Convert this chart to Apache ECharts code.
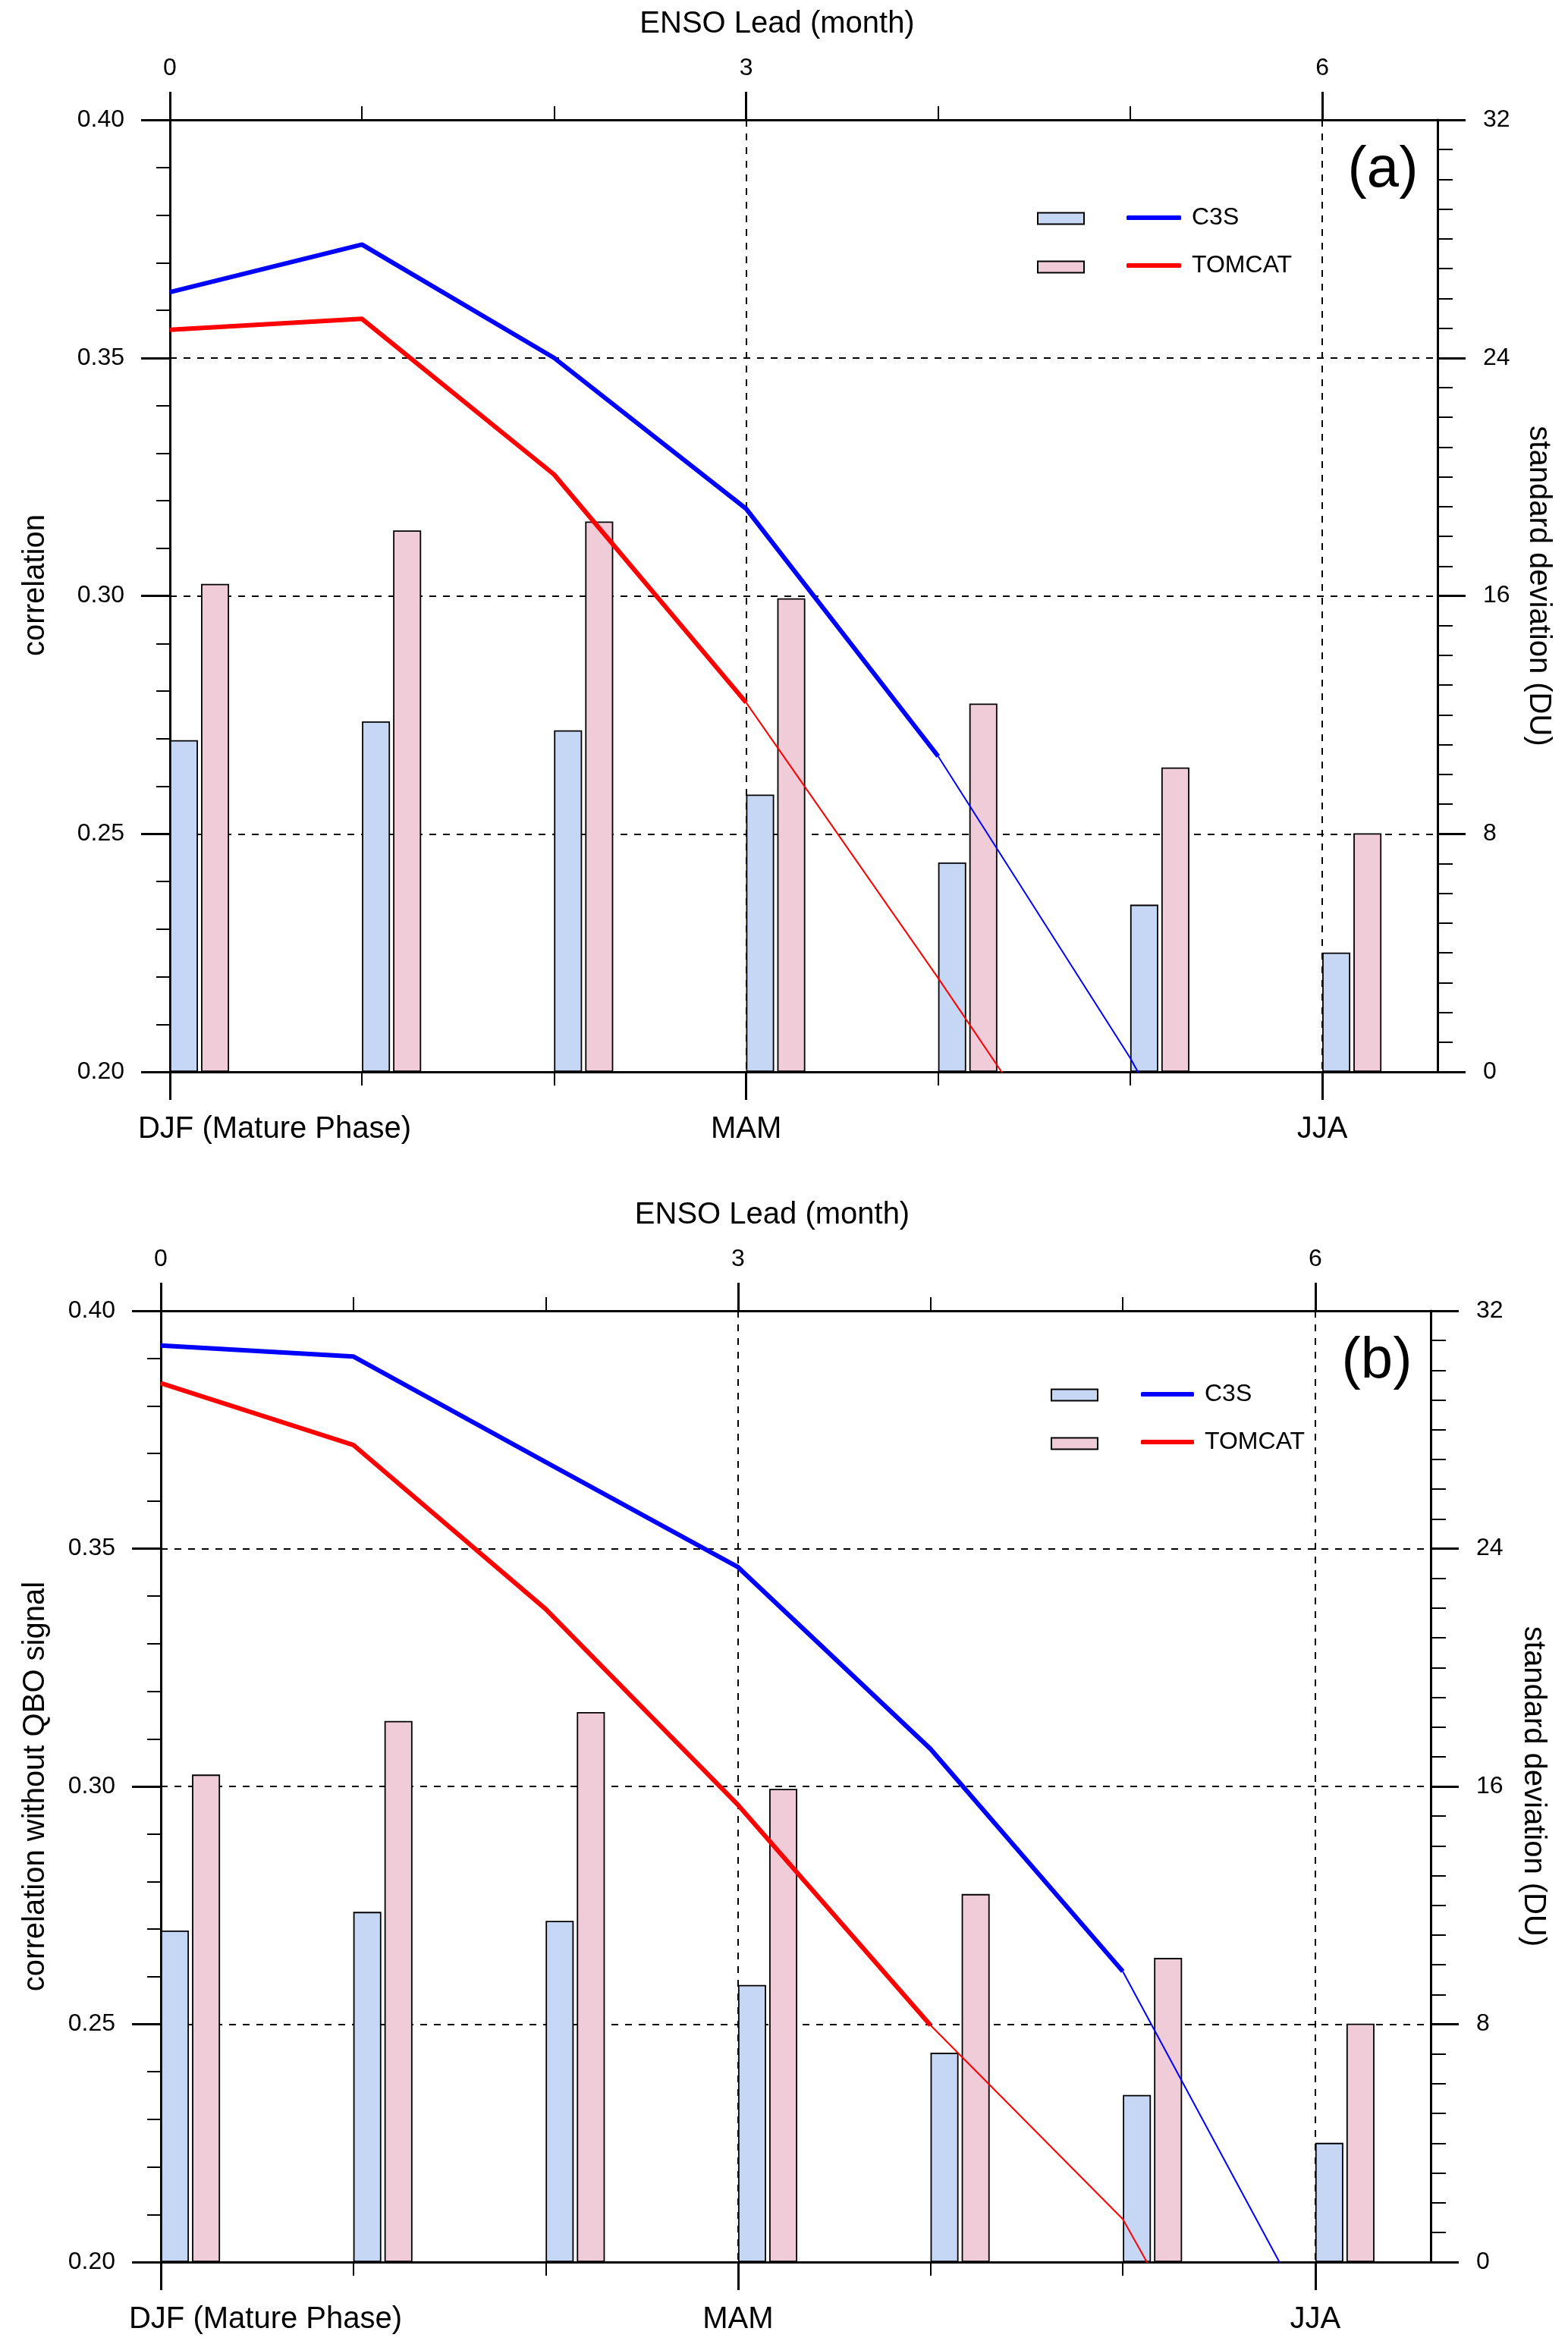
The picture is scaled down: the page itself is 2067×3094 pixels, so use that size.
<!DOCTYPE html>
<html>
<head>
<meta charset="utf-8">
<script src="https://cdn.jsdelivr.net/npm/echarts@6/dist/echarts.min.js"></script>
<style>
html,body{margin:0;padding:0;background:#ffffff;}
#chart{width:2067px;height:3094px;}
</style>
</head>
<body>
<div id="chart"></div>
<script>
// ---------------- data ----------------
const leadMonths = [0, 1, 2, 3, 4, 5, 6];
const leadTickValues = [0, 3, 6];
const seasonTickValues = [0, 3, 6];
const seasonLabels = ['DJF (Mature Phase)', 'MAM', 'JJA'];
const seriesNames = ['C3S', 'TOMCAT'];

// standard deviation (DU), right axis (same in both panels)
const sdC3S = [11.15, 11.78, 11.48, 9.32, 7.04, 5.62, 4.01];
const sdTOMCAT = [16.4, 18.2, 18.5, 15.92, 12.38, 10.23, 8.02];

// panel (a): correlation
const corrC3S_a = [0.3638, 0.3738, 0.3500, 0.3183, 0.2663, 0.2029, 0.130];
const corrTOMCAT_a = [0.3559, 0.3582, 0.3255, 0.2776, 0.2197, 0.160, 0.110];
// panel (b): correlation without QBO signal
const corrC3S_b = [0.3927, 0.3904, 0.3682, 0.3461, 0.3079, 0.2611, 0.186];
const corrTOMCAT_b = [0.3848, 0.3718, 0.3373, 0.2961, 0.2498, 0.209, 0.137];
// last lead (month) drawn thick (significant)
const sigLastC3S_a = 4, sigLastTOMCAT_a = 3;
const sigLastC3S_b = 5, sigLastTOMCAT_b = 4;

// ---------------- style ----------------
const FONT = "'Liberation Sans', Arial, Helvetica, sans-serif";
const BLUE = '#0000ff', RED = '#ff0000';
const BLUE_FILL = '#c6d7f5', PINK_FILL = '#f0cbd8';
const X_MAX = 6.6;
const BAR_SHIFT = 0.154; // bar pair starts at the lead tick
const dashed = {type: [9, 9], color: '#000', width: 2};

const option = {
  animation: false,
  backgroundColor: '#ffffff',
  grid: [], xAxis: [], yAxis: [], series: [], legend: [], graphic: []
};

function addPanel(p) {
  const gi = option.grid.length;
  option.grid.push({left: p.grid.left, top: p.grid.top, width: p.grid.width, height: p.grid.height, containLabel: false});
  const xb = option.xAxis.length, yb = option.yAxis.length;
  const axisLine = {show: true, onZero: false, lineStyle: {color: '#000', width: 3}};
  // bottom (season) axis for lines
  option.xAxis.push({
    gridIndex: gi, type: 'value', position: 'bottom', min: 0, max: X_MAX, interval: 3,
    axisLine: axisLine,
    axisTick: {show: true, customValues: seasonTickValues, length: 37, lineStyle: {color: '#000', width: 3}},
    minorTick: {show: true, splitNumber: 3, length: 18, lineStyle: {color: '#000', width: 2}},
    axisLabel: {
      customValues: seasonTickValues, margin: 56, fontSize: 40, fontFamily: FONT, color: '#000',
      formatter: function (v) {
        const i = seasonTickValues.indexOf(Math.round(v));
        if (i < 0) return '';
        return i === 0 ? '{d|' + seasonLabels[0] + '}' : seasonLabels[i];
      },
      rich: {d: {padding: [0, 0, 0, 276], fontSize: 40, fontFamily: FONT, color: '#000'}}
    },
    splitLine: {show: true, lineStyle: dashed}
  });
  // top (lead) axis
  option.xAxis.push({
    gridIndex: gi, type: 'value', position: 'top', min: 0, max: X_MAX, interval: 3,
    name: 'ENSO Lead (month)', nameLocation: 'middle', nameGap: 106,
    nameTextStyle: {fontSize: 40, fontFamily: FONT, color: '#000', padding: [0, p.titlePadRight, 0, 0]},
    axisLine: axisLine,
    axisTick: {show: true, customValues: leadTickValues, length: 37, lineStyle: {color: '#000', width: 3}},
    minorTick: {show: true, splitNumber: 3, length: 18, lineStyle: {color: '#000', width: 2}},
    axisLabel: {customValues: leadTickValues, margin: 52, fontSize: 32, fontFamily: FONT, color: '#000',
      formatter: function (v) { return String(Math.round(v)); }},
    splitLine: {show: false}
  });
  // hidden axis for bar pairs
  option.xAxis.push({
    gridIndex: gi, type: 'value', show: false, min: -BAR_SHIFT, max: X_MAX - BAR_SHIFT,
    axisLine: {show: false, onZero: false},
    splitLine: {show: false}
  });
  // left correlation axis
  option.yAxis.push({
    gridIndex: gi, type: 'value', position: 'left', min: 0.2, max: 0.4, interval: 0.05,
    name: p.leftName, nameLocation: 'middle', nameRotate: 90, nameGap: p.leftNameGap,
    nameTextStyle: {fontSize: 40, fontFamily: FONT, color: '#000', padding: [0, 0, 0, p.leftNameShift]},
    axisLine: axisLine,
    axisTick: {show: true, length: 38, lineStyle: {color: '#000', width: 3}},
    minorTick: {show: true, splitNumber: 5, length: 18, lineStyle: {color: '#000', width: 2}},
    axisLabel: {margin: 60, fontSize: 32, fontFamily: FONT, color: '#000',
      formatter: function (v) { return v.toFixed(2); }},
    splitLine: {show: true, lineStyle: dashed}
  });
  // right standard deviation axis
  option.yAxis.push({
    gridIndex: gi, type: 'value', position: 'right', min: 0, max: 32, interval: 8,
    name: 'standard deviation (DU)', nameLocation: 'middle', nameRotate: -90, nameGap: p.rightNameGap,
    nameTextStyle: {fontSize: 40, fontFamily: FONT, color: '#000', padding: [0, p.rightNameShift, 0, 0]},
    axisLine: axisLine,
    axisTick: {show: true, length: 37, lineStyle: {color: '#000', width: 3}},
    minorTick: {show: true, splitNumber: 8, length: 20, lineStyle: {color: '#000', width: 2}},
    axisLabel: {margin: 60, fontSize: 32, fontFamily: FONT, color: '#000'},
    splitLine: {show: false}
  });

  const sds = [sdC3S, sdTOMCAT];
  const fills = [BLUE_FILL, PINK_FILL];
  sds.forEach(function (arr, k) {
    option.series.push({
      type: 'bar', name: seriesNames[k] + ' std', xAxisIndex: xb + 2, yAxisIndex: yb + 1,
      data: leadMonths.map(function (m, i) { return [m, arr[i]]; }),
      barWidth: 37, barGap: '11%',
      itemStyle: {color: fills[k], borderColor: '#000', borderWidth: 1.8},
      z: 2
    });
  });
  const corrs = [p.corrC3S, p.corrTOMCAT];
  const sigs = [p.sigC3S, p.sigTOMCAT];
  const cols = [BLUE, RED];
  corrs.forEach(function (arr, k) {
    const pts = leadMonths.map(function (m, i) { return [m, arr[i]]; });
    option.series.push({
      type: 'line', name: seriesNames[k], xAxisIndex: xb, yAxisIndex: yb,
      data: pts.slice(0, sigs[k] + 1), symbol: 'none', clip: true,
      lineStyle: {color: cols[k], width: 6}, itemStyle: {color: cols[k]}, z: 4
    });
    option.series.push({
      type: 'line', name: seriesNames[k] + ' (not significant)', xAxisIndex: xb, yAxisIndex: yb,
      data: pts.slice(sigs[k]), symbol: 'none', clip: true,
      lineStyle: {color: cols[k], width: 2}, itemStyle: {color: cols[k]}, z: 4
    });
  });

  option.legend.push({
    left: p.legBar.left, top: p.legBar.top, orient: 'vertical', icon: 'rect',
    itemWidth: 61, itemHeight: 15, itemGap: 32, selectedMode: false,
    data: seriesNames.map(function (n) { return n + ' std'; }),
    formatter: function () { return ' '; },
    textStyle: {fontSize: 32, lineHeight: 32, fontFamily: FONT},
    itemStyle: {borderColor: '#000', borderWidth: 2}
  });
  option.legend.push({
    left: p.legLine.left, top: p.legLine.top, orient: 'vertical',
    itemWidth: p.legLine.w, itemHeight: 6, itemGap: 31, selectedMode: false,
    data: seriesNames.map(function (n) { return {name: n, icon: 'roundRect'}; }),
    textStyle: {fontSize: 32, lineHeight: 32, fontFamily: FONT, color: '#000', padding: [0, 0, 0, 9]},
    itemStyle: {borderWidth: 0}
  });
  option.graphic.push({
    type: 'text', x: p.tag.x, y: p.tag.y, z: 10,
    style: {text: p.tag.text, fontSize: 76, fontFamily: FONT, fill: '#000',
      align: 'center', verticalAlign: 'middle', textAlign: 'center', textVerticalAlign: 'middle'}
  });
}

addPanel({
  grid: {left: 224, top: 158, width: 1671, height: 1255},
  leftName: 'correlation', leftNameGap: 157, leftNameShift: 28,
  rightNameGap: 113, rightNameShift: 26, titlePadRight: 70,
  corrC3S: corrC3S_a, corrTOMCAT: corrTOMCAT_a, sigC3S: sigLastC3S_a, sigTOMCAT: sigLastTOMCAT_a,
  legBar: {left: 1362, top: 267}, legLine: {left: 1480, top: 266, w: 72},
  tag: {text: '(a)', x: 1823, y: 225}
});
addPanel({
  grid: {left: 212, top: 1728, width: 1674, height: 1254},
  leftName: 'correlation without QBO signal', leftNameGap: 145, leftNameShift: 0,
  rightNameGap: 115, rightNameShift: 0, titlePadRight: 62,
  corrC3S: corrC3S_b, corrTOMCAT: corrTOMCAT_b, sigC3S: sigLastC3S_b, sigTOMCAT: sigLastTOMCAT_b,
  legBar: {left: 1380, top: 1818}, legLine: {left: 1499, top: 1817, w: 70},
  tag: {text: '(b)', x: 1815, y: 1795}
});

const chart = echarts.init(document.getElementById('chart'), null, {renderer: 'canvas'});
chart.setOption(option);
</script>
</body>
</html>
